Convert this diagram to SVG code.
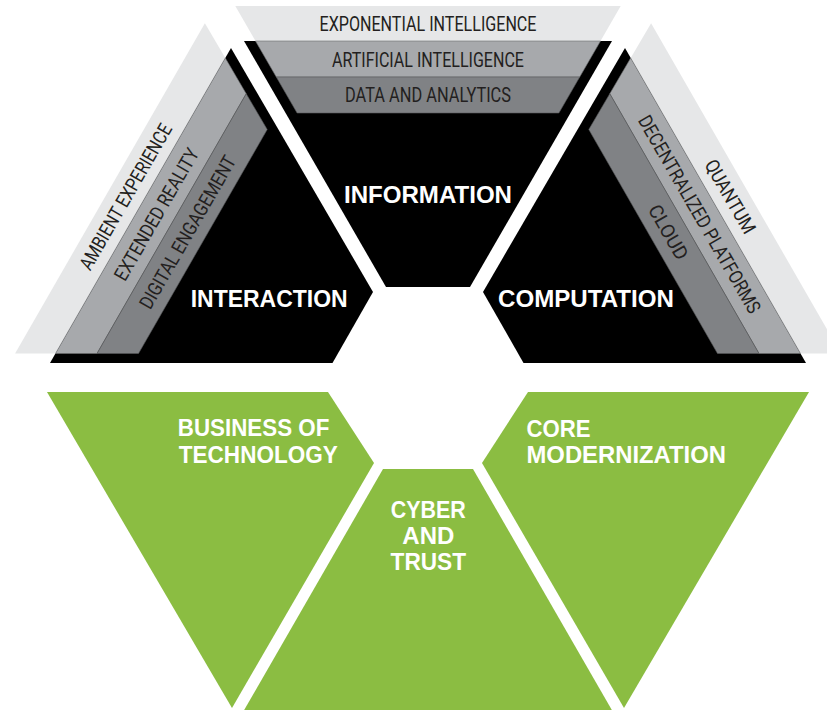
<svg xmlns="http://www.w3.org/2000/svg" width="827" height="710" viewBox="0 0 827 710">
<style>
.blk{fill:#000}
.l1{fill:#e6e7e8}
.l2{fill:#a7a9ac;stroke:#6d6e71;stroke-width:0.6}
.l3{fill:#808285;stroke:#58595b;stroke-width:0.6}
.grn{fill:#8bbd42}
.band{font-family:Roboto,"Liberation Sans",sans-serif;font-size:19.5px;fill:#231f20;text-anchor:middle}
.main{font-family:"Liberation Sans",Arial,sans-serif;font-weight:bold;font-size:23.2px;fill:#fff}
.mid{text-anchor:middle}
</style>
<rect width="827" height="710" fill="#fff"/>

<g id="information">
  <polygon class="blk" points="244,41 612,41 470,287 386,287"/>
  <g id="exponential-intelligence">
    <polygon class="l1" points="235.3,6 620.7,6 600.5,41 255.5,41"/>
    <text class="band" x="428" y="31" textLength="217" lengthAdjust="spacingAndGlyphs">EXPONENTIAL INTELLIGENCE</text>
  </g>
  <g id="artificial-intelligence">
    <polygon class="l2" points="255.5,41 600.5,41 579.7,77 276.3,77"/>
    <text class="band" x="428" y="67" textLength="192" lengthAdjust="spacingAndGlyphs">ARTIFICIAL INTELLIGENCE</text>
  </g>
  <g id="data-and-analytics">
    <polygon class="l3" points="276.3,77 579.7,77 558.9,113 297.1,113"/>
    <text class="band" x="428" y="102" textLength="166" lengthAdjust="spacingAndGlyphs">DATA AND ANALYTICS</text>
  </g>
  <text class="main mid" x="428" y="202.5" textLength="168" lengthAdjust="spacingAndGlyphs">INFORMATION</text>
</g>

<g id="interaction">
  <polygon class="blk" points="50,363 332.5,363 373,292 231,48"/>
  <g id="ambient-experience">
    <polygon class="l1" points="15.1,353.5 55.5,353.5 225.3,58 204.9,23.2"/>
    <text class="band" transform="translate(125.5,196.5) rotate(-60)" x="0" y="7" textLength="165" lengthAdjust="spacingAndGlyphs">AMBIENT EXPERIENCE</text>
  </g>
  <g id="extended-reality">
    <polygon class="l2" points="55.5,353.5 97,353.5 246.2,93.7 225.3,58"/>
    <text class="band" transform="translate(156.3,214.2) rotate(-60)" x="0" y="7" textLength="149" lengthAdjust="spacingAndGlyphs">EXTENDED REALITY</text>
  </g>
  <g id="digital-engagement">
    <polygon class="l3" points="97,353.5 138.5,353.5 267.2,129.5 246.2,93.7"/>
    <text class="band" transform="translate(187.5,232.1) rotate(-60)" x="0" y="7" textLength="173" lengthAdjust="spacingAndGlyphs">DIGITAL ENGAGEMENT</text>
  </g>
  <text class="main mid" x="269.2" y="307" textLength="157" lengthAdjust="spacingAndGlyphs">INTERACTION</text>
</g>

<g id="computation">
  <polygon class="blk" points="806,363 523.5,363 483,292 625,48"/>
  <g id="quantum">
    <polygon class="l1" points="840.9,353.5 800.5,353.5 630.7,58 651.1,23.2"/>
    <text class="band" transform="translate(730.5,196.5) rotate(60)" x="0" y="7" textLength="82" lengthAdjust="spacingAndGlyphs">QUANTUM</text>
  </g>
  <g id="decentralized-platforms">
    <polygon class="l2" points="800.5,353.5 759,353.5 609.8,93.7 630.7,58"/>
    <text class="band" transform="translate(699.7,214.2) rotate(60)" x="0" y="7" textLength="225" lengthAdjust="spacingAndGlyphs">DECENTRALIZED PLATFORMS</text>
  </g>
  <g id="cloud">
    <polygon class="l3" points="759,353.5 717.5,353.5 588.8,129.5 609.8,93.7"/>
    <text class="band" transform="translate(668.5,232.1) rotate(60)" x="0" y="7" textLength="60" lengthAdjust="spacingAndGlyphs">CLOUD</text>
  </g>
  <text class="main mid" x="586" y="307" textLength="176" lengthAdjust="spacingAndGlyphs">COMPUTATION</text>
</g>

<g id="business-of-technology">
  <polygon class="grn" points="47,392 328,392 374,463 232,708"/>
  <text class="main" x="177.8" y="436" textLength="151.5" lengthAdjust="spacingAndGlyphs">BUSINESS OF</text>
  <text class="main" x="178.8" y="462.5" textLength="159" lengthAdjust="spacingAndGlyphs">TECHNOLOGY</text>
</g>

<g id="cyber-and-trust">
  <polygon class="grn" points="383,469 473,469 613,712 243,712"/>
  <text class="main mid" x="428.3" y="517.5" textLength="75" lengthAdjust="spacingAndGlyphs">CYBER</text>
  <text class="main mid" x="428.3" y="543.5" textLength="52" lengthAdjust="spacingAndGlyphs">AND</text>
  <text class="main mid" x="428.3" y="569.5" textLength="75.5" lengthAdjust="spacingAndGlyphs">TRUST</text>
</g>

<g id="core-modernization">
  <polygon class="grn" points="528,392 809,392 624,708 482,463"/>
  <text class="main" x="526.5" y="436.5" textLength="64" lengthAdjust="spacingAndGlyphs">CORE</text>
  <text class="main" x="526.5" y="462.5" textLength="199.5" lengthAdjust="spacingAndGlyphs">MODERNIZATION</text>
</g>

<g id="connectors"/>
</svg>
